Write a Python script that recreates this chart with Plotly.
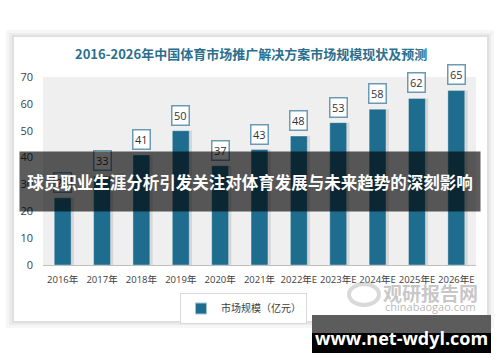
import plotly.graph_objects as go

# ---- data ----
categories = ["2016年", "2017年", "2018年", "2019年", "2020年", "2021年",
              "2022年E", "2023年E", "2024年E", "2025年E", "2026年E"]
market_size = [25, 33, 41, 50, 37, 43, 48, 53, 58, 62, 65]
series_name = "市场规模（亿元）"
title_text = "2016-2026年中国体育市场推广解决方案市场规模现状及预测"
banner_text = "球员职业生涯分析引发关注对体育发展与未来趋势的深刻影响"
site_text = "www.net-wdyl.com"
wm_cn = "观研报告网"
wm_en = "chinabaogao.com"
y_ticks = [0, 10, 20, 30, 40, 50, 60, 70]

W, H = 500, 362
L, R, T, B = 43, 24, 77, 97
PW, PH = W - L - R, H - T - B
FONT = "Noto Sans CJK SC, Noto Sans, sans-serif"
BAR = "#1f6d8e"


def px(x):
    return (x - L) / PW


def py(y):
    return (H - B - y) / PH


def rect(x0, y0, x1, y1, color, layer="below"):
    return dict(type="rect", xref="paper", yref="paper",
                x0=px(x0), x1=px(x1), y0=py(y1), y1=py(y0),
                fillcolor=color, line=dict(width=0), layer=layer)


def note(text, x, y, size, color, family=FONT, **kw):
    d = dict(text=text, xref="paper", yref="paper", x=px(x), y=py(y),
             xanchor="center", yanchor="middle", showarrow=False,
             font=dict(family=family, size=size, color=color))
    d.update(kw)
    return d


fig = go.Figure()

bw = 0.43
# soft shadow behind bars
fig.add_trace(go.Bar(x=categories, y=market_size, width=bw, offset=-bw / 2 + 0.07,
                     marker=dict(color="rgba(0,0,0,0.10)", line=dict(width=0)),
                     showlegend=False, hoverinfo="skip"))
fig.add_trace(go.Bar(x=categories, y=market_size, width=bw, offset=-bw / 2,
                     name=series_name,
                     marker=dict(color=BAR, line=dict(color="rgba(255,255,255,0.6)", width=0.6))))

shapes = [
    rect(6, 30, 494, 328, "rgba(0,0,0,0.035)"),
    rect(9, 33, 491, 325, "rgba(0,0,0,0.045)"),
    rect(12, 35, 489, 323, "rgba(0,0,0,0.05)"),
    rect(14, 37, 487, 321, "#ffffff"),
    dict(type="rect", xref="x domain", yref="y", x0=0, x1=1, y0=0, y1=70,
         fillcolor="#efefef", line=dict(width=0), layer="below"),
    # watermark logo
    dict(type="circle", xref="paper", yref="paper",
         x0=px(349), x1=px(379), y0=py(305), y1=py(284),
         line=dict(color="rgba(170,170,170,0.45)", width=4), layer="above"),
    # bottom site banner
    rect(312, 315, 491, 333, "#5c5c5c", layer="above"),
    rect(312, 333, 491, 353, "#000000", layer="above"),
]

annotations = [note("<b>" + title_text + "</b>", 251, 53, 13, "#2b6f8f")]
for c, v in zip(categories, market_size):
    annotations.append(dict(
        x=c, y=v, xref="x", yref="y", text=str(v), showarrow=False,
        xanchor="center", yanchor="bottom", yshift=5, bgcolor="#ffffff",
        bordercolor="#6a9bb4", borderwidth=1.5, borderpad=1.5,
        font=dict(family="Open Sans, sans-serif", size=11, color="#333333")))

annotations += [
    note("<b>" + banner_text + "</b>", 250, 181.5, 16.5, "#ffffff",
         width=458, height=57, bgcolor="rgba(0,0,0,0.64)", align="center", valign="middle"),
    note("<b>" + wm_cn + "</b>", 430, 292, 19, "rgba(150,150,150,0.55)"),
    note(wm_en, 430, 306, 11, "rgba(150,150,150,0.7)", family="Open Sans, sans-serif"),
    note("<b>" + site_text + "</b>", 401, 338, 18, "#ffffff", family="Open Sans, sans-serif"),
]

fig.update_layout(
    width=W, height=H,
    margin=dict(l=L, r=R, t=T, b=B, pad=0, autoexpand=False),
    paper_bgcolor="#ffffff", plot_bgcolor="#efefef",
    barmode="overlay",
    font=dict(family=FONT, size=10, color="#404040"),
    shapes=shapes, annotations=annotations,
    showlegend=True,
    legend=dict(orientation="h", x=px(180), xanchor="left", y=py(293), yanchor="top",
                bordercolor="#d9d9d9", borderwidth=1, bgcolor="#ffffff",
                font=dict(family=FONT, size=10, color="#404040"),
                itemwidth=30, itemsizing="constant"),
    xaxis=dict(type="category", showgrid=False, showline=True, linecolor="#bfbfbf",
               linewidth=1, ticks="", tickangle=0, automargin=False,
               tickfont=dict(family="Open Sans, Noto Sans CJK SC, sans-serif", size=9.5, color="#404040"),
               ticklabelstandoff=6),
    yaxis=dict(range=[0, 70], tickvals=y_ticks, showgrid=False, zeroline=False,
               showline=False, ticks="", automargin=False,
               tickfont=dict(family="Open Sans, sans-serif", size=11, color="#404040"),
               ticklabelstandoff=9),
)

fig.write_html("out.html", config={"displayModeBar": False},
               post_script="document.body.style.margin='0';document.body.style.overflow='hidden';")
